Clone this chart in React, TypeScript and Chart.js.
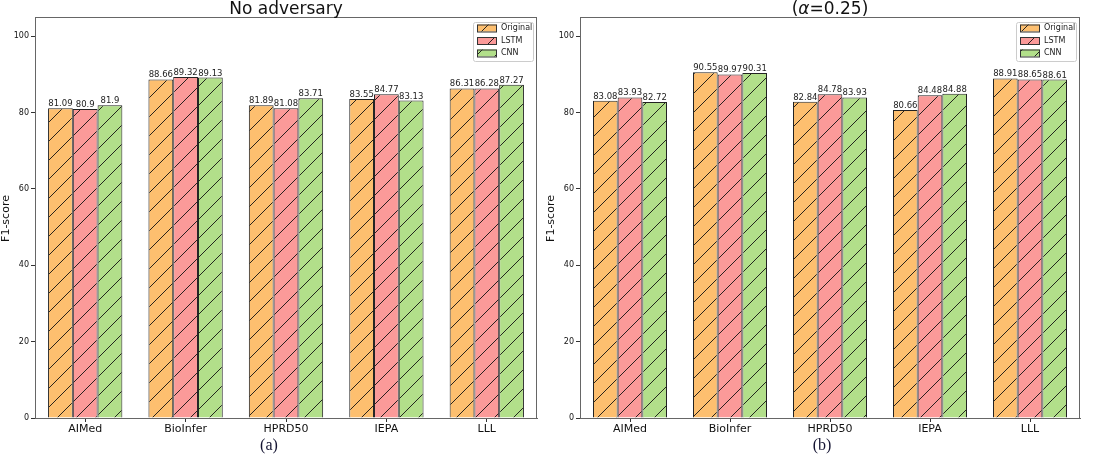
import React, { useEffect, useRef } from "react";
import { Chart, registerables } from "chart.js";

Chart.register(...registerables);

const categories = ["AIMed", "BioInfer", "HPRD50", "IEPA", "LLL"];
const seriesNames = ["Original", "LSTM", "CNN"];
const seriesColors = ["#fdbf6f", "#fb9a99", "#b2df8a"];

const noAdvOriginal = [81.09, 88.66, 81.89, 83.55, 86.31];
const noAdvLSTM = [80.9, 89.32, 81.08, 84.77, 86.28];
const noAdvCNN = [81.9, 89.13, 83.71, 83.13, 87.27];

const advOriginal = [83.08, 90.55, 82.84, 80.66, 88.91];
const advLSTM = [83.93, 89.97, 84.78, 84.48, 88.65];
const advCNN = [82.72, 90.31, 83.93, 84.88, 88.61];

const yTicks = [0, 20, 40, 60, 80, 100];
const yMax = 105;

const SANS = "'DejaVu Sans', sans-serif";
const SERIF = "'Liberation Serif', 'DejaVu Serif', serif";

function makeHatch(color: string): CanvasPattern | string {
  const s = 19;
  const c = document.createElement("canvas");
  c.width = s;
  c.height = s;
  const ctx = c.getContext("2d");
  if (!ctx) return color;
  ctx.fillStyle = color;
  ctx.fillRect(0, 0, s, s);
  ctx.strokeStyle = "#111";
  ctx.lineWidth = 0.9;
  ctx.beginPath();
  ctx.moveTo(0, s);
  ctx.lineTo(s, 0);
  ctx.moveTo(-2, 2);
  ctx.lineTo(2, -2);
  ctx.moveTo(s - 2, s + 2);
  ctx.lineTo(s + 2, s - 2);
  ctx.stroke();
  const p = ctx.createPattern(c, "repeat");
  return p || color;
}

type PanelProps = {
  width: number;
  yAxisWidth: number;
  padRight: number;
  title: string;
  titleParts?: { text: string; italic?: boolean }[];
  caption: string;
  captionX: number;
  yTitleBaseline: number;
  values: number[][];
};

function Panel(props: PanelProps) {
  const ref = useRef<HTMLCanvasElement | null>(null);
  useEffect(() => {
    const canvas = ref.current;
    if (!canvas) return;
    const patterns = seriesColors.map((c) => makeHatch(c));

    const overlay = {
      id: "overlay",
      afterDraw(chart: any) {
        const ctx = chart.ctx as CanvasRenderingContext2D;
        const a = chart.chartArea;
        ctx.save();
        // frame
        ctx.strokeStyle = "#666";
        ctx.lineWidth = 1;
        ctx.strokeRect(a.left + 0.5, a.top + 0.5, a.right - a.left - 1, a.bottom - a.top);

        // value labels
        ctx.fillStyle = "#222";
        ctx.font = `8.5px ${SANS}`;
        ctx.textAlign = "center";
        ctx.textBaseline = "alphabetic";
        chart.data.datasets.forEach((ds: any, di: number) => {
          const meta = chart.getDatasetMeta(di);
          meta.data.forEach((el: any, i: number) => {
            ctx.fillText(String(ds.data[i]), el.x, el.y - 2);
          });
        });

        // legend
        const lw = 60;
        const lh = 39;
        const lx = a.right - 4 - lw;
        const ly = a.top + 5;
        ctx.fillStyle = "rgba(255,255,255,0.85)";
        ctx.strokeStyle = "#cccccc";
        ctx.lineWidth = 1;
        ctx.beginPath();
        (ctx as any).roundRect
          ? (ctx as any).roundRect(lx + 0.5, ly + 0.5, lw, lh, 2)
          : ctx.rect(lx + 0.5, ly + 0.5, lw, lh);
        ctx.fill();
        ctx.stroke();
        seriesNames.forEach((name, i) => {
          const cy = ly + 6 + i * 12.5;
          const px = lx + 4;
          ctx.fillStyle = patterns[i] as any;
          ctx.fillRect(px, cy - 3.5, 20, 7);
          ctx.strokeStyle = "#333";
          ctx.lineWidth = 1;
          ctx.strokeRect(px + 0.5, cy - 3.5 + 0.5, 19, 7);
          ctx.fillStyle = "#222";
          ctx.font = `8px ${SANS}`;
          ctx.textAlign = "left";
          ctx.textBaseline = "middle";
          ctx.fillText(name, px + 24, cy);
        });

        // title
        ctx.fillStyle = "#111";
        ctx.textBaseline = "alphabetic";
        const tcx = (a.left + a.right) / 2;
        const parts = props.titleParts || [{ text: props.title }];
        const widths = parts.map((p) => {
          ctx.font = `${p.italic ? "oblique " : ""}17px ${SANS}`;
          return ctx.measureText(p.text).width;
        });
        const total = widths.reduce((s, w) => s + w, 0);
        let tx = tcx - total / 2;
        ctx.textAlign = "left";
        parts.forEach((p, i) => {
          ctx.font = `${p.italic ? "oblique " : ""}17px ${SANS}`;
          ctx.fillText(p.text, tx, 14);
          tx += widths[i];
        });

        // y-axis title
        ctx.save();
        ctx.translate(props.yTitleBaseline, (a.top + a.bottom) / 2 + 1);
        ctx.rotate(-Math.PI / 2);
        ctx.font = `11px ${SANS}`;
        ctx.textAlign = "center";
        ctx.textBaseline = "alphabetic";
        ctx.fillText("F1-score", 0, 0);
        ctx.restore();

        // caption
        ctx.font = `16px ${SERIF}`;
        ctx.textAlign = "center";
        ctx.textBaseline = "middle";
        ctx.fillStyle = "#141432";
        ctx.fillText(props.caption, props.captionX, 445.5);
        ctx.restore();
      },
    };

    const chart = new Chart(canvas, {
      type: "bar",
      data: {
        labels: categories,
        datasets: seriesNames.map((name, i) => ({
          label: name,
          data: props.values[i],
          backgroundColor: patterns[i] as any,
          borderColor: "#222",
          borderWidth: 1,
          categoryPercentage: 0.74,
          barPercentage: 1.0,
        })),
      },
      options: {
        responsive: false,
        animation: false,
        layout: { padding: { left: 0, right: props.padRight, top: 17, bottom: 0 } },
        plugins: {
          legend: { display: false },
          tooltip: { enabled: false },
          title: { display: false },
        },
        scales: {
          x: {
            grid: {
              display: true,
              offset: false,
              drawOnChartArea: false,
              drawTicks: true,
              tickLength: 4,
              color: "#333",
            },
            border: { display: true, color: "#666" },
            ticks: { font: { family: SANS, size: 11 }, color: "#111", padding: 1 },
            afterFit: (s: any) => {
              s.height = 456 - 418;
            },
          },
          y: {
            min: 0,
            max: yMax,
            afterBuildTicks: (s: any) => {
              s.ticks = yTicks.map((v) => ({ value: v }));
            },
            grid: {
              display: true,
              drawOnChartArea: false,
              drawTicks: true,
              tickLength: 4,
              color: "#333",
            },
            border: { display: true, color: "#666" },
            ticks: { font: { family: SANS, size: 8 }, color: "#111", padding: 2 },
            afterFit: (s: any) => {
              s.width = props.yAxisWidth;
            },
          },
        },
      },
      plugins: [overlay],
    });
    return () => chart.destroy();
  }, []);
  return <canvas ref={ref} width={props.width} height={456} style={{ display: "block" }} />;
}

export default function App() {
  return (
    <div
      style={{
        position: "absolute",
        left: 0,
        top: 0,
        width: 1100,
        height: 456,
        background: "#fff",
        overflow: "hidden",
      }}
    >
      <div style={{ position: "absolute", left: 0, top: 0 }}>
        <Panel
          width={550}
          yAxisWidth={35}
          padRight={13}
          title="No adversary"
          caption="(a)"
          captionX={269}
          yTitleBaseline={9}
          values={[noAdvOriginal, noAdvLSTM, noAdvCNN]}
        />
      </div>
      <div style={{ position: "absolute", left: 540, top: 0 }}>
        <Panel
          width={560}
          yAxisWidth={40}
          padRight={20}
          title="(α=0.25)"
          titleParts={[{ text: "(" }, { text: "α", italic: true }, { text: "=0.25)" }]}
          caption="(b)"
          captionX={282}
          yTitleBaseline={13.5}
          values={[advOriginal, advLSTM, advCNN]}
        />
      </div>
    </div>
  );
}
